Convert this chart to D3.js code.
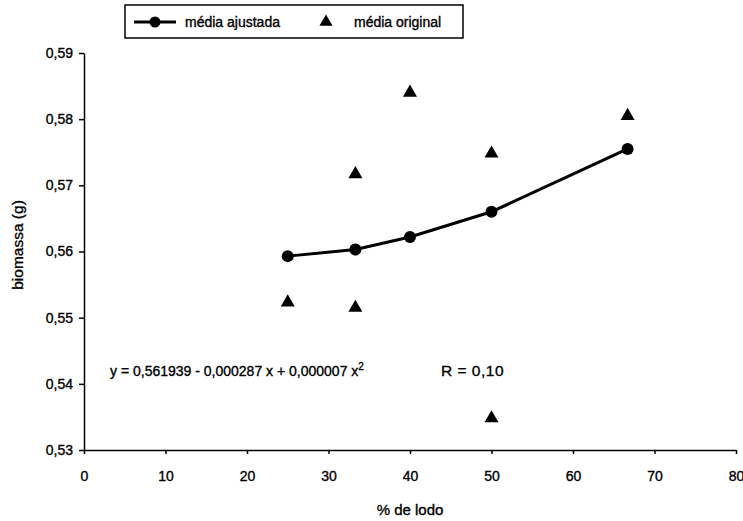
<!DOCTYPE html>
<html>
<head>
<meta charset="utf-8">
<script src="https://cdn.jsdelivr.net/npm/d3@7"></script>
<style>
body { margin: 0; background: #fff; }
text { font-family: "Liberation Sans", Arial, sans-serif; fill: #000; stroke: #000; stroke-width: 0.35px; }
</style>
</head>
<body>
<script>
var lodo = [25, 33.3, 40, 50, 66.7];
var ajustada = [0.5593, 0.5603, 0.5622, 0.5660, 0.5755];
var origX = [25, 33.3, 33.3, 40, 50, 50, 66.7];
var origY = [0.5523, 0.5717, 0.5515, 0.5840, 0.5748, 0.5348, 0.5805];
var xTicks = [0, 10, 20, 30, 40, 50, 60, 70, 80];
var yTicks = [0.53, 0.54, 0.55, 0.56, 0.57, 0.58, 0.59];

var width = 743, height = 521;
var svg = d3.select("body").append("svg")
    .attr("width", width)
    .attr("height", height);

var x = d3.scaleLinear().domain([0, 80]).range([84, 736]);
var y = d3.scaleLinear().domain([0.53, 0.59]).range([450, 53]);
var fmt = function(d) { return d3.format(".2f")(d).replace(".", ","); };

var xAxis = svg.append("g")
    .attr("transform", "translate(0,450)")
    .call(d3.axisBottom(x).tickValues(xTicks).tickSize(4).tickSizeOuter(0).tickPadding(17));
var yAxis = svg.append("g")
    .attr("transform", "translate(84,0)")
    .call(d3.axisLeft(y).tickValues(yTicks).tickFormat(fmt).tickSize(5).tickSizeOuter(0).tickPadding(6));
[xAxis, yAxis].forEach(function(a) {
    a.selectAll("path, line").attr("stroke", "#000").attr("stroke-width", 1.5);
    a.selectAll("text").attr("font-size", "14px").attr("font-family", "Liberation Sans, Arial, sans-serif");
});

svg.append("text")
    .attr("transform", "translate(23,245) rotate(-90)")
    .attr("text-anchor", "middle")
    .attr("font-size", "15.5px")
    .text("biomassa (g)");
svg.append("text")
    .attr("x", 410).attr("y", 515)
    .attr("text-anchor", "middle")
    .attr("font-size", "15px")
    .text("% de lodo");

var pts = lodo.map(function(d, i) { return [d, ajustada[i]]; });
svg.append("path")
    .datum(pts)
    .attr("fill", "none")
    .attr("stroke", "#000")
    .attr("stroke-width", 3)
    .attr("d", d3.line().x(function(d) { return x(d[0]); }).y(function(d) { return y(d[1]); }));
svg.selectAll("circle.aj")
    .data(pts)
    .enter()
    .append("circle")
    .attr("class", "aj")
    .attr("cx", function(d) { return x(d[0]); })
    .attr("cy", function(d) { return y(d[1]); })
    .attr("r", 6);

var tri = d3.symbol().type(d3.symbolTriangle).size(85);
svg.selectAll("path.orig")
    .data(origX.map(function(d, i) { return [d, origY[i]]; }))
    .enter()
    .append("path")
    .attr("class", "orig")
    .attr("d", tri)
    .attr("transform", function(d) { return "translate(" + x(d[0]) + "," + y(d[1]) + ")"; });

var eq = svg.append("text")
    .attr("x", 110).attr("y", 376)
    .attr("font-size", "14px");
eq.append("tspan").text("y = 0,561939 - 0,000287 x + 0,000007 x");
eq.append("tspan").attr("dy", -6).attr("font-size", "10px").text("2");
svg.append("text")
    .attr("x", 441).attr("y", 376)
    .attr("font-size", "15.5px")
    .attr("letter-spacing", "0.5px")
    .text("R = 0,10");

// legenda
var leg = svg.append("g");
leg.append("rect")
    .attr("x", 125).attr("y", 5)
    .attr("width", 338).attr("height", 33)
    .attr("fill", "#fff")
    .attr("stroke", "#000")
    .attr("stroke-width", 1.5);
leg.append("line")
    .attr("x1", 134).attr("x2", 176).attr("y1", 22).attr("y2", 22)
    .attr("stroke", "#000").attr("stroke-width", 3);
leg.append("circle").attr("cx", 155).attr("cy", 22).attr("r", 5.5);
leg.append("text").attr("x", 185).attr("y", 27).attr("font-size", "14px").text("média ajustada");
leg.append("path").attr("d", tri.size(75)).attr("transform", "translate(326,22)");
leg.append("text").attr("x", 354).attr("y", 27).attr("font-size", "14px").text("média original");
</script>
</body>
</html>
